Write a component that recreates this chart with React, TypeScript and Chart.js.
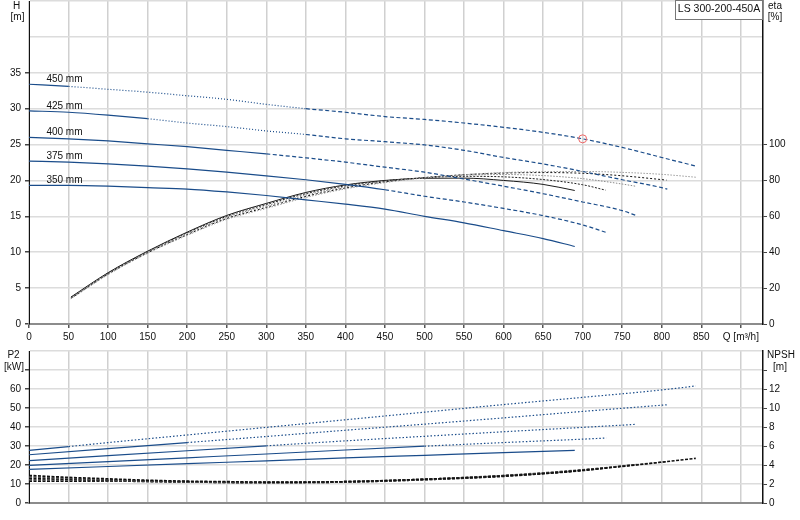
import { useEffect, useRef } from "react";
import { Chart, registerables } from "chart.js";

Chart.register(...registerables);

const FONT = "'Liberation Sans', Arial, sans-serif";
const BLUE = "#1a4c8a";

// impeller diameters, largest first
const diameters = ["450 mm", "425 mm", "400 mm", "375 mm", "350 mm"];

// Q-H curves [m3/h] / [m]
const qH450 = [0, 50, 100, 150, 200, 250, 300, 350, 400, 450, 500, 550, 600, 650, 700, 750, 800, 843];
const h450 = [33.4, 33.1, 32.7, 32.3, 31.8, 31.3, 30.6, 30.0, 29.5, 28.9, 28.5, 28.0, 27.4, 26.7, 25.8, 24.6, 23.2, 22.0];
const qH425 = [0, 50, 100, 150, 200, 250, 300, 350, 400, 450, 500, 550, 600, 650, 700, 750, 800, 807];
const h425 = [29.7, 29.5, 29.1, 28.6, 28.0, 27.5, 26.9, 26.4, 25.8, 25.4, 24.95, 24.2, 23.2, 22.3, 21.25, 20.1, 19.0, 18.8];
const qH400 = [0, 50, 100, 150, 200, 250, 300, 350, 400, 450, 500, 550, 600, 650, 700, 750, 768];
const h400 = [26.0, 25.8, 25.5, 25.1, 24.7, 24.2, 23.7, 23.15, 22.55, 21.85, 21.15, 20.2, 19.2, 18.15, 17.0, 15.8, 15.1];
const qH375 = [0, 50, 100, 150, 200, 250, 300, 350, 400, 450, 500, 550, 600, 650, 700, 730];
const h375 = [22.7, 22.55, 22.3, 22.0, 21.6, 21.15, 20.65, 20.1, 19.45, 18.7, 17.8, 17.0, 16.1, 15.1, 13.8, 12.75];
const qH350 = [0, 50, 100, 150, 200, 250, 300, 350, 400, 450, 500, 550, 600, 650, 690];
const h350 = [19.3, 19.3, 19.2, 19.0, 18.8, 18.4, 17.9, 17.3, 16.7, 16.0, 15.0, 14.1, 13.0, 11.9, 10.8];

// efficiency curves [%]
const qE450 = [53, 100, 150, 200, 250, 300, 350, 400, 450, 500, 550, 600, 650, 700, 750, 800, 843];
const e450 = [14, 27.5, 39.4, 49.4, 58.3, 64.4, 70.5, 75.3, 78.8, 81.4, 83.2, 84.4, 84.9, 85, 84.5, 83.4, 81.8];
const qE425 = [53, 100, 150, 200, 250, 300, 350, 400, 450, 500, 550, 600, 650, 700, 750, 806];
const e425 = [14.2, 27.8, 39.7, 49.8, 58.8, 65, 71.1, 75.8, 79.2, 81.6, 83.2, 84.1, 84.4, 84, 82.6, 80.2];
const qE400 = [53, 100, 150, 200, 250, 300, 350, 400, 450, 500, 550, 600, 650, 700, 750, 768];
const e400 = [14.5, 28, 40, 50.3, 59.4, 65.8, 71.8, 76.4, 79.5, 81.6, 82.9, 83.3, 82.7, 81, 78, 76.7];
const qE375 = [53, 100, 150, 200, 250, 300, 350, 400, 450, 500, 550, 600, 650, 700, 729];
const e375 = [14.8, 28.3, 40.3, 50.8, 60, 66.6, 72.6, 77, 79.8, 81.5, 82.3, 82, 80.5, 77.6, 74.6];
const qE350 = [53, 100, 150, 200, 250, 300, 350, 400, 450, 500, 550, 600, 650, 690];
const e350 = [15, 28.6, 40.6, 51.2, 60.5, 67.2, 73.3, 77.5, 80, 81.2, 81.3, 80, 77.8, 74.4];

// shaft power P2 [kW]
const qP450 = [0, 50, 100, 200, 300, 400, 500, 600, 700, 800, 843];
const p450 = [27.7, 29.7, 31.8, 35.8, 39.8, 43.8, 47.8, 51.8, 55.6, 59.5, 61.6];
const qP425 = [0, 100, 200, 300, 400, 500, 600, 700, 807];
const p425 = [25.4, 28.6, 31.8, 35.0, 38.3, 41.5, 44.8, 48.2, 51.7];
const qP400 = [0, 100, 200, 300, 400, 500, 600, 700, 768];
const p400 = [22.3, 24.9, 27.5, 30.1, 32.7, 35.1, 37.5, 39.8, 41.4];
const qP375 = [0, 100, 200, 300, 400, 500, 600, 700, 730];
const p375 = [19.8, 21.8, 23.8, 25.8, 27.9, 29.9, 31.8, 33.6, 34.2];
const qP350 = [0, 100, 200, 300, 400, 500, 600, 690];
const p350 = [17.7, 19.2, 20.7, 22.2, 23.7, 25.1, 26.5, 27.7];

// NPSH [m]
const qN450 = [0, 50, 100, 150, 200, 250, 300, 350, 400, 450, 500, 550, 600, 650, 700, 750, 800, 843];
const n450 = [2.9, 2.7, 2.55, 2.4, 2.3, 2.25, 2.2, 2.2, 2.25, 2.35, 2.5, 2.65, 2.85, 3.1, 3.45, 3.85, 4.3, 4.7];
const qN425 = [0, 100, 200, 300, 400, 500, 600, 700, 807];
const n425 = [2.75, 2.45, 2.25, 2.15, 2.25, 2.5, 2.9, 3.5, 4.35];
const qN400 = [0, 100, 200, 300, 400, 500, 600, 700, 768];
const n400 = [2.6, 2.4, 2.25, 2.15, 2.25, 2.5, 2.88, 3.45, 4.05];
const qN375 = [0, 100, 200, 300, 400, 500, 600, 700, 730];
const n375 = [2.45, 2.35, 2.2, 2.15, 2.2, 2.45, 2.85, 3.4, 3.7];
const qN350 = [0, 100, 200, 300, 400, 500, 600, 690];
const n350 = [2.3, 2.3, 2.2, 2.15, 2.2, 2.45, 2.8, 3.35];

// duty point
const dutyQ = 700;
const dutyH = 25.8;

const qHList = [qH450, qH425, qH400, qH375, qH350];
const hList = [h450, h425, h400, h375, h350];
const qEList = [qE450, qE425, qE400, qE375, qE350];
const eList = [e450, e425, e400, e375, e350];
const qPList = [qP450, qP425, qP400, qP375, qP350];
const pList = [p450, p425, p400, p375, p350];
const qNList = [qN450, qN425, qN400, qN375, qN350];
const nList = [n450, n425, n400, n375, n350];

// where line style changes (solid -> dotted -> dashed)
const solidTo = [50, 150, 300, 450, 9999];
const dashFrom = [350, 350, 300, 450, 9999];

const etaStyles = [
  { color: "#9a9a9a", dash: [1.5, 1.5] },
  { color: "#111111", dash: [2, 2] },
  { color: "#8a8a8a", dash: [1.5, 1.5] },
  { color: "#222222", dash: [2, 1.5] },
  { color: "#1a1a1a", dash: [] },
];

const pts = (q: number[], v: number[]) => q.map((x, i) => ({ x, y: v[i] }));

const tickFont = { family: FONT, size: 10 };

// drop the label overhang so the plot box sits where we want it
const noPad = (s: any) => {
  s.paddingTop = 0;
  s.paddingBottom = 0;
  s.paddingLeft = 0;
  s.paddingRight = 0;
};

const topText = {
  id: "topText",
  afterDraw(chart: any) {
    const { ctx, scales } = chart;
    ctx.save();
    ctx.font = `10px ${FONT}`;
    ctx.fillStyle = "#111";
    ctx.textAlign = "center";
    ctx.textBaseline = "middle";
    ctx.fillText("H", 16.5, 6);
    ctx.fillText("[m]", 17.5, 17);
    ctx.fillText("eta", 775, 6);
    ctx.fillText("[%]", 775, 17);
    ctx.textAlign = "left";
    ctx.textBaseline = "alphabetic";
    diameters.forEach((d, i) => {
      const x = scales.x.getPixelForValue(22);
      const y = scales.h.getPixelForValue(hList[i][0]) - 2;
      ctx.fillText(d, x, y);
    });
    // model box
    ctx.strokeStyle = "#777";
    ctx.lineWidth = 1;
    ctx.fillStyle = "#fff";
    ctx.fillRect(675.5, 0.5, 87, 19);
    ctx.strokeRect(675.5, 0.5, 87, 19);
    ctx.fillStyle = "#111";
    ctx.font = `10.5px ${FONT}`;
    ctx.textAlign = "center";
    ctx.textBaseline = "middle";
    ctx.fillText("LS 300-200-450A", 719, 9.5);
    ctx.restore();
  },
};

const bottomText = {
  id: "bottomText",
  afterDraw(chart: any) {
    const { ctx } = chart;
    ctx.save();
    ctx.font = `10px ${FONT}`;
    ctx.fillStyle = "#111";
    ctx.textAlign = "center";
    ctx.textBaseline = "middle";
    ctx.fillText("P2", 13.5, 15);
    ctx.fillText("[kW]", 14, 27);
    ctx.fillText("NPSH", 781, 15);
    ctx.fillText("[m]", 780, 27);
    ctx.restore();
  },
};

const xGrid = { color: "#d0d0d0", lineWidth: 1.5 };

export default function App() {
  const topRef = useRef<HTMLCanvasElement>(null);
  const botRef = useRef<HTMLCanvasElement>(null);

  useEffect(() => {
    const hSets = diameters.map((d, i) => ({
      label: "H " + d,
      data: pts(qHList[i], hList[i]),
      yAxisID: "h",
      borderColor: BLUE,
      borderWidth: 1.2,
      pointRadius: 0,
      cubicInterpolationMode: "monotone",
      segment: {
        borderDash: (c: any) => {
          const q = c.p0.parsed.x;
          return q < solidTo[i] ? [] : q < dashFrom[i] ? [1, 2] : [4, 2.5];
        },
      },
    }));
    const eSets = diameters.map((d, i) => ({
      label: "eta " + d,
      data: pts(qEList[i], eList[i]),
      yAxisID: "eta",
      borderColor: etaStyles[i].color,
      borderDash: etaStyles[i].dash,
      borderWidth: 1,
      pointRadius: 0,
      cubicInterpolationMode: "monotone",
    }));
    const top = new Chart(topRef.current!, {
      type: "line",
      data: {
        datasets: [
          {
            label: "duty",
            data: [{ x: dutyQ, y: dutyH }],
            yAxisID: "h",
            showLine: false,
            pointRadius: 4,
            pointBorderColor: "#ee6666",
            pointBackgroundColor: "rgba(255,255,255,0)",
            pointBorderWidth: 1,
          },
          ...hSets,
          ...eSets,
        ] as any,
      },
      options: {
        animation: false,
        responsive: false,
        layout: { autoPadding: false, padding: { top: 1, left: 0, right: 0, bottom: 0 } },
        plugins: { legend: { display: false }, tooltip: { enabled: false } },
        scales: {
          x: {
            type: "linear",
            min: 0,
            max: 928,
            afterFit: (s: any) => {
              s.height = 21;
              noPad(s);
            },
            ticks: {
              stepSize: 50,
              includeBounds: false,
              autoSkip: false,
              maxRotation: 0,
              padding: 3,
              color: "#111",
              font: tickFont,
              callback: (v: any) => (Number(v) === 900 ? "Q [m³/h]" : String(v)),
            },
            grid: { ...xGrid, tickLength: 4, tickColor: "#555" },
            border: { color: "#8c8c8c", width: 2 },
          },
          h: {
            type: "linear",
            position: "left",
            min: 0,
            max: 45,
            afterFit: (s: any) => {
              s.width = 29;
              noPad(s);
            },
            ticks: {
              stepSize: 5,
              padding: 4,
              color: "#111",
              font: tickFont,
              callback: (v: any) => (Number(v) <= 35 ? String(v) : ""),
            },
            grid: {
              color: "#dcdcdc",
              lineWidth: 1.5,
              tickLength: 4,
              tickColor: (c: any) => (c.tick && c.tick.value <= 35 ? "#444" : "rgba(0,0,0,0)"),
            },
            border: { color: "#111", width: 1 },
          },
          eta: {
            type: "linear",
            position: "right",
            min: 0,
            max: 180,
            afterFit: (s: any) => {
              s.width = 37;
              noPad(s);
            },
            ticks: {
              stepSize: 20,
              padding: 2,
              color: "#111",
              font: tickFont,
              callback: (v: any) => (Number(v) <= 100 ? String(v) : ""),
            },
            grid: {
              drawOnChartArea: false,
              tickLength: 4,
              tickColor: (c: any) => (c.tick && c.tick.value <= 100 ? "#444" : "rgba(0,0,0,0)"),
            },
            border: { color: "#111", width: 1.5 },
          },
        },
      } as any,
      plugins: [topText],
    });

    const pSets = diameters.map((d, i) => ({
      label: "P2 " + d,
      data: pts(qPList[i], pList[i]),
      yAxisID: "p2",
      borderColor: BLUE,
      borderWidth: 1.2,
      pointRadius: 0,
      cubicInterpolationMode: "monotone",
      segment: {
        borderDash: (c: any) => (c.p0.parsed.x < solidTo[i] ? [] : [1.5, 2]),
      },
    }));
    const nSets = diameters.map((d, i) => ({
      label: "NPSH " + d,
      data: pts(qNList[i], nList[i]),
      yAxisID: "npsh",
      borderColor: i % 2 ? "#555" : "#111",
      borderDash: [3, 1.5],
      borderWidth: 1.6,
      pointRadius: 0,
      cubicInterpolationMode: "monotone",
    }));
    const bot = new Chart(botRef.current!, {
      type: "line",
      data: { datasets: [...pSets, ...nSets] as any },
      options: {
        animation: false,
        responsive: false,
        layout: { autoPadding: false, padding: { top: 11, left: 0, right: 0, bottom: 0 } },
        plugins: { legend: { display: false }, tooltip: { enabled: false } },
        scales: {
          x: {
            type: "linear",
            min: 0,
            max: 928,
            afterFit: (s: any) => {
              s.height = 17;
              noPad(s);
            },
            ticks: { stepSize: 50, includeBounds: false, display: false },
            grid: { ...xGrid, drawTicks: false },
            border: { color: "#8c8c8c", width: 2 },
          },
          p2: {
            type: "linear",
            position: "left",
            min: 0,
            max: 80,
            afterFit: (s: any) => {
              s.width = 29;
              noPad(s);
            },
            ticks: {
              stepSize: 10,
              padding: 4,
              color: "#111",
              font: tickFont,
              callback: (v: any) => (Number(v) <= 60 ? String(v) : ""),
            },
            grid: {
              color: "#dcdcdc",
              lineWidth: 1.5,
              tickLength: 4,
              tickColor: (c: any) => (c.tick && c.tick.value <= 70 ? "#444" : "rgba(0,0,0,0)"),
            },
            border: { color: "#111", width: 1 },
          },
          npsh: {
            type: "linear",
            position: "right",
            min: 0,
            max: 16,
            afterFit: (s: any) => {
              s.width = 37;
              noPad(s);
            },
            ticks: {
              stepSize: 2,
              padding: 2,
              color: "#111",
              font: tickFont,
              callback: (v: any) => (Number(v) <= 12 ? String(v) : ""),
            },
            grid: {
              drawOnChartArea: false,
              tickLength: 4,
              tickColor: (c: any) => (c.tick && c.tick.value <= 14 ? "#444" : "rgba(0,0,0,0)"),
            },
            border: { color: "#111", width: 1.5 },
          },
        },
      } as any,
      plugins: [bottomText],
    });

    return () => {
      top.destroy();
      bot.destroy();
    };
  }, []);

  return (
    <div style={{ position: "absolute", left: 0, top: 0, width: 800, height: 520, background: "#fff" }}>
      <canvas ref={topRef} width={800} height={345} style={{ position: "absolute", left: 0, top: 0 }} />
      <canvas ref={botRef} width={800} height={180} style={{ position: "absolute", left: 0, top: 340 }} />
    </div>
  );
}
